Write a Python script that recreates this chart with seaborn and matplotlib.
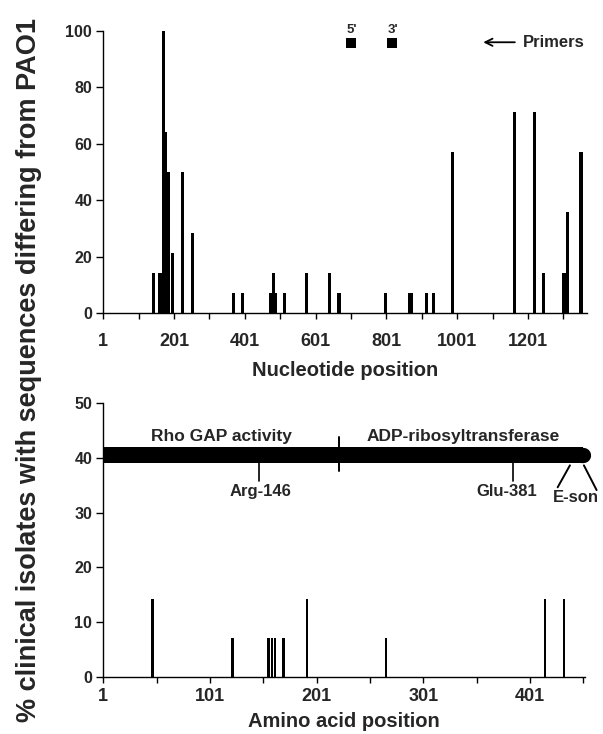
import numpy as np
import pandas as pd
import matplotlib.pyplot as plt
import seaborn as sns

# top panel: nucleotide positions and % isolates differing from PAO1
nt_pos = [142, 161, 172, 177, 184, 196, 225, 253, 368, 395, 475, 481, 487,
          513, 575, 640, 667, 799, 866, 871, 915, 934, 989, 1163, 1220,
          1246, 1303, 1313, 1351]
nt_pct = [14.3, 14.3, 100, 64.3, 50, 21.4, 50, 28.6, 7.1, 7.1, 7.1, 14.3, 7.1,
          7.1, 14.3, 14.3, 7.1, 7.1, 7.1, 7.1, 7.1, 7.1, 57.1, 71.4, 71.4,
          14.3, 14.3, 35.7, 57.1]
nt_ticks = [1, 201, 401, 601, 801, 1001, 1201]
nt_minor = [101, 301, 501, 701, 901, 1101, 1301]

# primer locations
primer_pos = [700, 817]
primer_labels = ["5'", "3'"]
primer_y = 95.7

# bottom panel: amino acid positions
aa_pos = [47, 122, 156, 159, 162, 170, 192, 266, 415, 433]
aa_pct = [14.3, 7.1, 7.1, 7.1, 7.1, 7.1, 14.3, 7.1, 14.3, 14.3]
aa_ticks = [1, 101, 201, 301, 401]
aa_minor = [51, 151, 251, 351, 451]

# protein domain diagram
protein_len = 453
domain_labels = ['Rho GAP activity', 'ADP-ribosyltransferase']
domain_label_x = [112, 338]
domain_split = 222
residue_labels = ['Arg-146', 'Glu-381']
residue_pos = [147, 385]
residue_label_x = [148, 379]

sns.set_theme(style='ticks')
plt.rcParams['font.family'] = ['Liberation Sans', 'DejaVu Sans']
plt.rcParams['font.weight'] = 'bold'
plt.rcParams['axes.labelweight'] = 'bold'
plt.rcParams['axes.linewidth'] = 1.0
plt.rcParams['axes.edgecolor'] = 'black'


def set_bar_width(ax, w):
    # keep bar centres, force a fixed width in data units
    for p in ax.patches:
        c = p.get_x() + p.get_width() / 2
        p.set_x(c - w / 2)
        p.set_width(w)


fig = plt.figure(figsize=(6.03, 7.34), dpi=100)
ax1 = fig.add_axes([0.1713, 0.5732, 0.8022, 0.3846])
ax2 = fig.add_axes([0.1713, 0.0772, 0.7988, 0.3741])

# ---- top panel
nt_df = pd.DataFrame({'pos': nt_pos, 'pct': nt_pct})
sns.barplot(data=nt_df, x='pos', y='pct', native_scale=True, orient='x',
            color='black', saturation=1, linewidth=0, ax=ax1)
set_bar_width(ax1, 9)

sns.scatterplot(x=primer_pos, y=[primer_y] * len(primer_pos), marker='s',
                s=55, color='black', linewidth=0, ax=ax1, clip_on=False)
for x, lab in zip(primer_pos, primer_labels):
    ax1.text(x + 3, primer_y + 3.5, lab, ha='center', va='baseline',
             fontsize=9.5)
ax1.annotate('', xy=(1067, 96), xytext=(1172, 96),
             arrowprops=dict(arrowstyle='->', color='black', lw=1.3,
                             mutation_scale=13))
ax1.text(1188, 96, 'Primers', ha='left', va='center', fontsize=12)

ax1.set_xlim(1, 1368)
ax1.set_ylim(0, 100)
ax1.set_xticks(nt_ticks)
ax1.set_xticks(nt_minor, minor=True)
ax1.set_yticks(range(0, 101, 20))
ax1.tick_params(axis='x', which='both', length=4, width=1, pad=10,
                labelsize=13, color='black')
ax1.tick_params(axis='y', length=5, width=1, pad=3, labelsize=11.5,
                color='black')
ax1.set_xlabel('Nucleotide position', fontsize=14.5, labelpad=8)
ax1.set_ylabel('')
sns.despine(ax=ax1)

# ---- bottom panel
aa_df = pd.DataFrame({'pos': aa_pos, 'pct': aa_pct})
sns.barplot(data=aa_df, x='pos', y='pct', native_scale=True, orient='x',
            color='black', saturation=1, linewidth=0, ax=ax2)
set_bar_width(ax2, 2.3)

# domain diagram, rounded C-terminal end
ax2.barh(40.55, protein_len - 3, left=1, height=2.9, color='black',
         linewidth=0)
ax2.plot([protein_len - 4, protein_len - 2], [40.55, 40.55], color='black',
         lw=11, solid_capstyle='round', clip_on=False)
ax2.plot([domain_split, domain_split], [37.5, 43.7], color='black', lw=1.4)
for x, lab in zip(domain_label_x, domain_labels):
    ax2.text(x, 43.1, lab, ha='center', va='baseline', fontsize=12.5)
for x, xl, lab in zip(residue_pos, residue_label_x, residue_labels):
    ax2.plot([x, x], [35.8, 39.0], color='black', lw=1.2)
    ax2.text(xl, 33.0, lab, ha='center', va='baseline', fontsize=12)
ax2.plot([438.4, 426.9], [38.6, 34.6], color='black', lw=1.4, clip_on=False)
ax2.plot([451.5, 463.4], [38.6, 34.1], color='black', lw=1.4, clip_on=False)
ax2.text(444, 32.0, 'E-son', ha='center', va='baseline', fontsize=12,
         clip_on=False)

ax2.set_xlim(1, 452.5)
ax2.set_ylim(0, 50)
ax2.set_xticks(aa_ticks)
ax2.set_xticks(aa_minor, minor=True)
ax2.set_yticks(range(0, 51, 10))
ax2.tick_params(axis='x', which='both', length=4, width=1, pad=3.5,
                labelsize=13, color='black')
ax2.tick_params(axis='y', length=5, width=1, pad=3, labelsize=11.5,
                color='black')
ax2.set_xlabel('Amino acid position', fontsize=14.5, labelpad=5)
ax2.set_ylabel('')
sns.despine(ax=ax2)

fig.text(0.0473, 0.496,
         '% clinical isolates with sequences differing from PAO1',
         rotation=90, ha='center', va='center', fontsize=19.5)

fig.savefig('out.png', dpi=100)
